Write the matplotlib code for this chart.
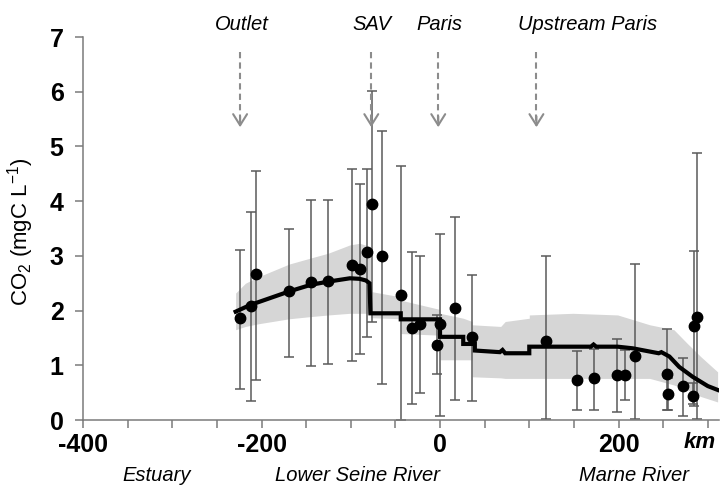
import numpy as np
import matplotlib
matplotlib.use("Agg")
import matplotlib.pyplot as plt
from matplotlib.ticker import MultipleLocator

plt.rcParams["font.family"] = ["Liberation Sans", "DejaVu Sans"]
plt.rcParams["mathtext.default"] = "regular"
plt.rcParams["axes.unicode_minus"] = False

# ----- observations: distance (km), CO2 (mgC/L), error range -----
obs_km = [-224, -212, -206, -169, -145, -125, -99, -90, -82, -76, -65, -44, -31, -22,
          0, -3, 17, 36, 119, 153, 173, 198, 207, 218, 254, 255, 272, 283, 285, 288]
obs_val = [1.86, 2.08, 2.67, 2.35, 2.52, 2.54, 2.84, 2.76, 3.07, 3.94, 2.99, 2.28, 1.69, 1.75,
           1.75, 1.37, 2.04, 1.51, 1.45, 0.73, 0.77, 0.82, 0.82, 1.17, 0.84, 0.47, 0.62, 0.43, 1.71, 1.89]
obs_lo = [0.57, 0.34, 0.74, 1.16, 0.99, 1.02, 1.07, 1.20, 1.52, 1.80, 0.66, 0.00, 0.30, 0.49,
          0.08, 0.84, 0.37, 0.35, 0.02, 0.18, 0.18, 0.15, 0.37, 0.02, 0.18, 0.18, 0.08, 0.30, 0.25, 0.02]
obs_hi = [3.10, 3.80, 4.56, 3.49, 4.02, 4.03, 4.58, 4.31, 4.59, 6.02, 5.28, 4.64, 3.07, 3.00,
          3.40, 1.92, 3.71, 2.65, 2.99, 1.26, 1.30, 1.48, 1.28, 2.85, 1.66, 0.76, 1.14, 0.67, 3.08, 4.88]

# ----- simulated CO2 (stepped model line) -----
model_km = [-229, -213, -169, -145, -125, -101, -90, -83, -79, -78, -44, -44, 0, 0, 26, 26, 39, 39,
            67, 70, 73, 100, 100, 169, 172, 175, 199, 216, 245, 248, 257, 268, 283, 300, 311]
model_val = [1.98, 2.10, 2.35, 2.47, 2.53, 2.59, 2.58, 2.55, 2.50, 1.95, 1.95, 1.84, 1.84, 1.52,
             1.52, 1.39, 1.39, 1.27, 1.24, 1.28, 1.22, 1.22, 1.34, 1.34, 1.38, 1.34, 1.34, 1.31,
             1.22, 1.24, 1.16, 0.97, 0.79, 0.62, 0.55]

# ----- model envelope (grey band) -----
band_km = [-229, -218, -203, -169, -145, -125, -101, -90, -78, -78, -44, -44, 0, 0, 26, 36, 36,
           68, 73, 100, 100, 149, 199, 235, 262, 277, 292, 311]
band_hi = [2.32, 2.50, 2.62, 2.85, 2.96, 3.05, 3.20, 3.23, 3.17, 2.35, 2.25, 2.19, 2.02, 1.95,
           1.86, 1.80, 1.74, 1.71, 1.80, 1.86, 1.92, 1.95, 1.92, 1.74, 1.65, 1.40, 1.16, 0.88]
band_lo = [1.65, 1.71, 1.76, 1.85, 1.89, 1.92, 1.95, 1.95, 1.95, 1.87, 1.85, 1.58, 1.55, 1.10,
           1.10, 1.10, 0.79, 0.77, 0.76, 0.76, 0.76, 0.76, 0.76, 0.76, 0.64, 0.55, 0.43, 0.33]

# ----- annotations -----
site_names = ["Outlet", "SAV", "Paris", "Upstream Paris"]
site_km = [-224, -77, -2, 108]
site_label_km = [-222, -76, -1, 165]
reach_names = ["Estuary", "Lower Seine River", "Marne River"]
reach_km = [-317, -93, 217]

fig = plt.figure(figsize=(7.23, 4.92), dpi=100)
ax = fig.add_axes([83 / 723, 72 / 492, 636.4 / 723, 383 / 492])

ax.fill_between(band_km, band_lo, band_hi, color="#d6d6d6", lw=0, zorder=1)
ax.errorbar(obs_km, obs_val,
            yerr=[np.array(obs_val) - np.array(obs_lo), np.array(obs_hi) - np.array(obs_val)],
            fmt="none", ecolor="#5a5a5a", elinewidth=1.1, capsize=3.6, capthick=1.1, zorder=2)
ax.plot(model_km, model_val, color="black", lw=3, solid_joinstyle="miter", zorder=3)
ax.plot(obs_km, obs_val, "o", color="black", ms=7.5, zorder=4)

# dashed arrows for sites
for name, xk, xl in zip(site_names, site_km, site_label_km):
    ax.plot([xk, xk], [6.73, 5.40], ls=(0, (3, 2)), color="#8c8c8c", lw=1.5, zorder=5, clip_on=False)
    ax.annotate("", xy=(xk, 5.30), xytext=(xk, 5.60),
                arrowprops=dict(arrowstyle="->,head_length=0.8,head_width=0.5", color="#8c8c8c", lw=1.5))
    ax.text(xl, 7.23, name, ha="center", va="center", fontsize=14.5, style="italic", clip_on=False)

for name, xk in zip(reach_names, reach_km):
    ax.text(xk, -1.02, name, ha="center", va="center", fontsize=14.5, style="italic", clip_on=False)
ax.text(291, -0.42, "km", ha="center", va="center", fontsize=16, style="italic", fontweight="bold")

ax.set_xlim(-400, 313)
ax.set_ylim(0, 7)
ax.set_xticks([-400, -200, 0, 200])
ax.xaxis.set_minor_locator(MultipleLocator(50))
ax.set_yticks(range(0, 8))
for s in ["top", "right"]:
    ax.spines[s].set_visible(False)
for s in ["left", "bottom"]:
    ax.spines[s].set_color("#7a7a7a")
    ax.spines[s].set_linewidth(1.1)
ax.tick_params(axis="both", which="both", direction="out", length=6, width=1.1, color="#7a7a7a")
ax.tick_params(axis="x", labelsize=18, pad=3)
ax.tick_params(axis="y", labelsize=18, pad=8)
for lab in ax.get_xticklabels() + ax.get_yticklabels():
    lab.set_fontweight("bold")

fig.text(21 / 723, 1 - 232 / 492, "CO$_2$ (mgC L$^{-1}$)", rotation=90, ha="center", va="center",
         fontsize=16)

fig.savefig("out.png", dpi=100)
